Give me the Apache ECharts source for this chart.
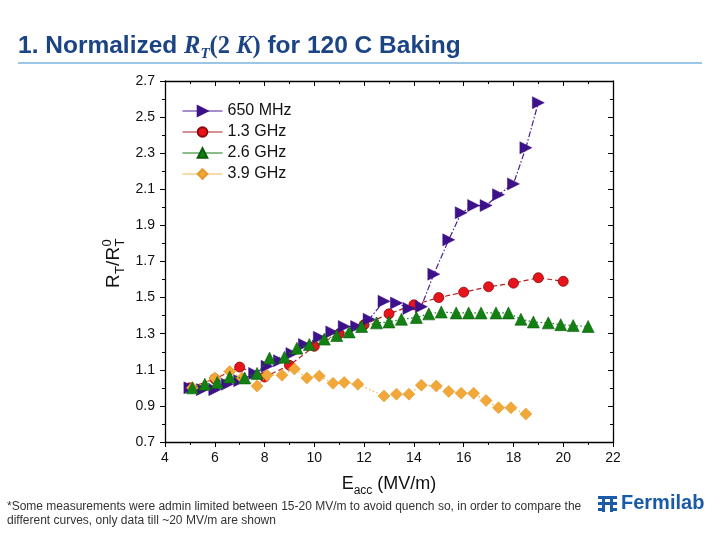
<!DOCTYPE html>
<html><head><meta charset="utf-8">
<script src="https://cdn.jsdelivr.net/npm/echarts@6/dist/echarts.min.js"></script>
<style>html,body{margin:0;padding:0;background:#fff}#c{width:720px;height:540px}</style>
</head><body><div id="c"></div>
<script>
// ---- data ----
const xTicks = [4, 6, 8, 10, 12, 14, 16, 18, 20, 22];
const yTicks = [0.7, 0.9, 1.1, 1.3, 1.5, 1.7, 1.9, 2.1, 2.3, 2.5, 2.7];
const yMinorTicks = [0.8, 1.0, 1.2, 1.4, 1.6, 1.8, 2.0, 2.2, 2.4, 2.6];
const seriesNames = ['650 MHz', '1.3 GHz', '2.6 GHz', '3.9 GHz'];

const x650 = [5.0, 5.5, 6.0, 6.5, 7.0, 7.6, 8.1, 8.6, 9.1, 9.6, 10.2, 10.7, 11.2, 11.7, 12.2, 12.8, 13.3, 13.8, 14.3, 14.8, 15.4, 15.9, 16.4, 16.9, 17.4, 18.0, 18.5, 19.0];
const y650 = [1.00, 0.99, 0.99, 1.02, 1.04, 1.08, 1.12, 1.15, 1.19, 1.24, 1.28, 1.31, 1.34, 1.34, 1.38, 1.48, 1.47, 1.44, 1.45, 1.63, 1.82, 1.97, 2.01, 2.01, 2.07, 2.13, 2.33, 2.58];

const x1300 = [5, 6, 7, 8, 9, 10, 11, 12, 13, 14, 15, 16, 17, 18, 19, 20];
const y1300 = [1.00, 1.05, 1.115, 1.06, 1.125, 1.23, 1.30, 1.35, 1.41, 1.46, 1.50, 1.53, 1.56, 1.58, 1.61, 1.59];

const x2600 = [5.1, 5.6, 6.1, 6.6, 7.2, 7.7, 8.2, 8.8, 9.3, 9.8, 10.4, 10.9, 11.4, 11.9, 12.5, 13.0, 13.5, 14.1, 14.6, 15.1, 15.7, 16.2, 16.7, 17.3, 17.8, 18.3, 18.8, 19.4, 19.9, 20.4, 21.0];
const y2600 = [1.00, 1.02, 1.03, 1.06, 1.055, 1.08, 1.165, 1.17, 1.22, 1.24, 1.27, 1.29, 1.31, 1.34, 1.36, 1.365, 1.38, 1.39, 1.41, 1.42, 1.415, 1.415, 1.415, 1.415, 1.415, 1.38, 1.365, 1.36, 1.35, 1.345, 1.34];

const x3900 = [5.1, 6.0, 6.6, 7.1, 7.7, 8.1, 8.7, 9.2, 9.7, 10.2, 10.75, 11.2, 11.75, 12.8, 13.3, 13.8, 14.3, 14.9, 15.4, 15.9, 16.4, 16.9, 17.4, 17.9, 18.5];
const y3900 = [1.00, 1.055, 1.09, 1.055, 1.01, 1.07, 1.07, 1.105, 1.055, 1.065, 1.025, 1.03, 1.02, 0.955, 0.965, 0.965, 1.015, 1.01, 0.98, 0.97, 0.97, 0.93, 0.89, 0.89, 0.855];

const pairs = (xs, ys) => xs.map((x, i) => [x, ys[i]]);

const chart = echarts.init(document.getElementById('c'), null, {renderer: 'canvas'});
const FONT = 'Liberation Sans, Arial, sans-serif';
const axisCommon = {type: 'value', min: 4, max: 22, interval: 2, splitLine: {show: false}};
const lineC = {lineStyle: {color: '#000', width: 1.3}};

const option = {
  backgroundColor: '#fff',
  animation: false,
  grid: {left: 165, right: 107, top: 81, bottom: 98},
  legend: {
    orient: 'vertical', left: 177, top: 98, itemWidth: 40, itemHeight: 12, itemGap: 5,
    data: seriesNames,
    lineStyle: {type: 'solid', width: 1},
    textStyle: {fontSize: 16, fontFamily: FONT, color: '#111'}
  },
  xAxis: [
    Object.assign({}, axisCommon, {
      position: 'bottom', axisLine: lineC,
      axisTick: {inside: false, length: 5, lineStyle: {color: '#000'}},
      minorTick: {show: true, splitNumber: 2, length: 3, lineStyle: {color: '#000'}},
      axisLabel: {customValues: xTicks, fontSize: 14, fontFamily: FONT, color: '#111', margin: 9}
    }),
    Object.assign({}, axisCommon, {
      position: 'top', axisLine: lineC,
      axisTick: {inside: true, length: 5, lineStyle: {color: '#000'}},
      minorTick: {show: true, splitNumber: 2, length: 3, lineStyle: {color: '#000'}},
      axisLabel: {show: false}
    })
  ],
  yAxis: [
    {type: 'value', min: 0.7, max: 2.7, position: 'left', splitLine: {show: false}, axisLine: Object.assign({show: true}, lineC),
      axisTick: {show: true, inside: false, length: 5, customValues: yTicks, lineStyle: {color: '#000'}},
      axisLabel: {customValues: yTicks, fontSize: 14, fontFamily: FONT, color: '#111', margin: 10}},
    {type: 'value', min: 0.7, max: 2.7, position: 'left', splitLine: {show: false}, axisLine: {show: false},
      axisTick: {show: true, inside: false, length: 3, customValues: yMinorTicks, lineStyle: {color: '#000'}},
      axisLabel: {show: false}},
    {type: 'value', min: 0.7, max: 2.7, position: 'right', splitLine: {show: false}, axisLine: Object.assign({show: true}, lineC),
      axisTick: {show: true, inside: true, length: 5, customValues: yTicks, lineStyle: {color: '#000'}},
      axisLabel: {show: false}},
    {type: 'value', min: 0.7, max: 2.7, position: 'right', splitLine: {show: false}, axisLine: {show: false},
      axisTick: {show: true, inside: true, length: 3, customValues: yMinorTicks, lineStyle: {color: '#000'}},
      axisLabel: {show: false}}
  ],
  series: [
    {name: seriesNames[0], type: 'line', z: 3, data: pairs(x650, y650),
      symbol: 'triangle', symbolRotate: -90, symbolSize: 12,
      itemStyle: {color: '#3c1189', borderColor: '#3c1189', borderWidth: 0.5},
      lineStyle: {color: '#4a1f98', width: 1.2, type: [6, 2, 1.5, 2]}},
    {name: seriesNames[1], type: 'line', z: 2, data: pairs(x1300, y1300),
      symbol: 'circle', symbolSize: 10,
      itemStyle: {color: '#e8131b', borderColor: '#8a0a0a', borderWidth: 0.8},
      lineStyle: {color: '#b01f22', width: 1.2, type: [5, 3]}},
    {name: seriesNames[2], type: 'line', z: 5, data: pairs(x2600, y2600),
      symbol: 'triangle', symbolSize: 12,
      itemStyle: {color: '#128012', borderColor: '#0b5e0b', borderWidth: 0.6},
      lineStyle: {color: '#137a13', width: 1.2, type: [1.5, 2.5]}},
    {name: seriesNames[3], type: 'line', z: 4, data: pairs(x3900, y3900),
      symbol: 'diamond', symbolSize: 12,
      itemStyle: {color: '#f1a838', borderColor: '#e4992c', borderWidth: 0.6},
      lineStyle: {color: '#f3b756', width: 1.2, type: [1.5, 2.5]}}
  ],
  graphic: [
    {type: 'text', left: 18, top: 34, style: {
      text: '{a|1. Normalized }{r|R}{t|T}{p|(2 }{r|K}{p|)}{a| for 120 C Baking}',
      rich: {
        a: {fontSize: 24.5, fontWeight: 'bold', fontFamily: FONT, fill: '#1b4485', lineHeight: 30},
        r: {fontSize: 24.5, fontWeight: 'bold', fontStyle: 'italic', fontFamily: 'Liberation Serif, serif', fill: '#1b4485', lineHeight: 30},
        t: {fontSize: 15, fontWeight: 'bold', fontStyle: 'italic', fontFamily: 'Liberation Serif, serif', fill: '#1b4485', lineHeight: 15, verticalAlign: 'bottom'},
        p: {fontSize: 24.5, fontWeight: 'bold', fontFamily: 'Liberation Serif, serif', fill: '#1b4485', lineHeight: 30}
      }}},
    {type: 'rect', shape: {x: 18, y: 62, width: 684, height: 2}, style: {fill: '#9cc6e6'}},
    // x-axis title
    {type: 'text', x: 389, y: 484, style: {
      text: '{e|E}{s|acc}{e| (MV/m)}', align: 'center', verticalAlign: 'middle',
      rich: {
        e: {fontSize: 18, fontFamily: FONT, fill: '#111', lineHeight: 26},
        s: {fontSize: 12, fontFamily: FONT, fill: '#111', lineHeight: 12, verticalAlign: 'bottom'}
      }}},
    // y-axis title (rotated)
    {type: 'group', x: 114, y: 262, rotation: Math.PI / 2, children: [
      {type: 'text', x: -26, y: 0, style: {text: 'R', fontSize: 19, fontFamily: FONT, fill: '#111', verticalAlign: 'middle'}},
      {type: 'text', x: -12, y: 6, style: {text: 'T', fontSize: 13, fontFamily: FONT, fill: '#111', verticalAlign: 'middle'}},
      {type: 'text', x: -4, y: 0, style: {text: '/', fontSize: 19, fontFamily: FONT, fill: '#111', verticalAlign: 'middle'}},
      {type: 'text', x: 1.5, y: 0, style: {text: 'R', fontSize: 19, fontFamily: FONT, fill: '#111', verticalAlign: 'middle'}},
      {type: 'text', x: 15.5, y: -6.5, style: {text: '0', fontSize: 13, fontFamily: FONT, fill: '#111', verticalAlign: 'middle'}},
      {type: 'text', x: 15.5, y: 6, style: {text: 'T', fontSize: 13, fontFamily: FONT, fill: '#111', verticalAlign: 'middle'}}
    ]},
    // footnote
    {type: 'text', left: 7, top: 500, style: {
      text: '*Some measurements were admin limited between 15-20 MV/m to avoid quench so, in order to compare the\ndifferent curves, only data till ~20 MV/m are shown',
      fontSize: 12, lineHeight: 14, fontFamily: FONT, fill: '#333'}},
    // Fermilab logo
    {type: 'group', left: 598, top: 496, children: [
      {type: 'rect', shape: {x: 0, y: 0, width: 19, height: 3}, style: {fill: '#1b5aa6'}},
      {type: 'rect', shape: {x: 0, y: 6, width: 19, height: 3}, style: {fill: '#1b5aa6'}},
      {type: 'rect', shape: {x: 4, y: 0, width: 3, height: 16}, style: {fill: '#1b5aa6'}},
      {type: 'rect', shape: {x: 12, y: 0, width: 3, height: 16}, style: {fill: '#1b5aa6'}},
      {type: 'rect', shape: {x: 0, y: 12, width: 6, height: 3}, style: {fill: '#1b5aa6'}},
      {type: 'rect', shape: {x: 13, y: 12, width: 6, height: 3}, style: {fill: '#1b5aa6'}}
    ]},
    {type: 'text', left: 621, top: 493, style: {text: 'Fermilab', fontSize: 20, fontWeight: 'bold', fontFamily: FONT, fill: '#1b5aa6'}}
  ]
};
chart.setOption(option);
</script>
</body></html>
